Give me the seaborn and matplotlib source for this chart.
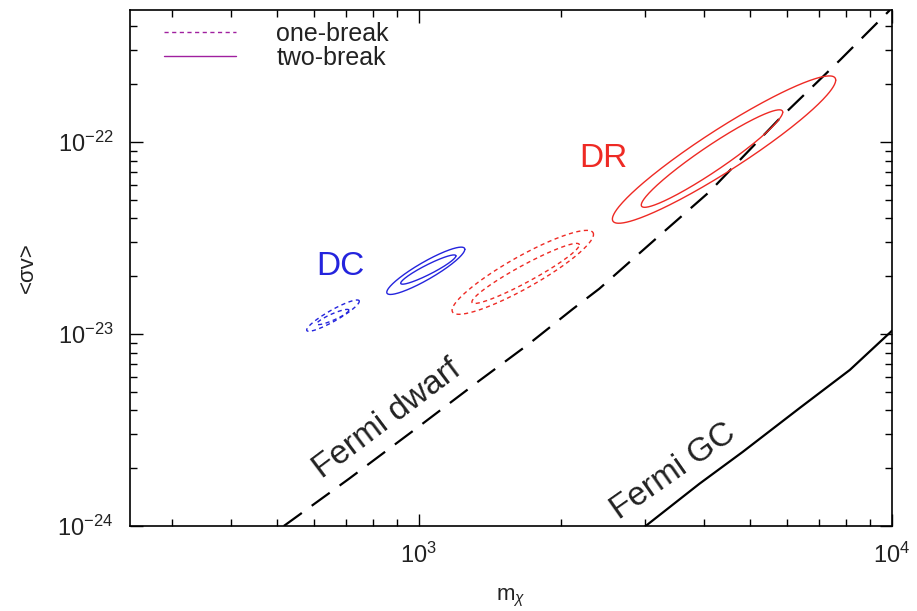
import numpy as np
import pandas as pd
import matplotlib
matplotlib.use("Agg")
import matplotlib.pyplot as plt
import seaborn as sns
from matplotlib.lines import Line2D
from matplotlib.ticker import LogLocator, LogFormatterMathtext, NullFormatter

# ---------------- data ----------------
# Fermi dwarf limit (dashed)
dwarf_m = [518, 711, 1000, 1340, 1710, 2115, 2405, 3222, 4111, 5795, 7762, 9903]
dwarf_sv = [1.0e-24, 1.76e-24, 3.3e-24, 5.7e-24, 8.9e-24, 1.35e-23, 1.72e-23,
            3.25e-23, 5.5e-23, 1.33e-22, 2.67e-22, 4.87e-22]
# Fermi GC limit (solid)
gc_m = [2999, 3917, 4833, 6383, 8145, 10000]
gc_sv = [0.99e-24, 1.66e-24, 2.43e-24, 4.12e-24, 6.5e-24, 1.04e-23]

# Contours: leftmost point, rightmost point, vertical half-height (decades)
contour_names = ["DR two outer", "DR two inner", "DR one outer", "DR one inner",
                 "DC two outer", "DC two inner", "DC one outer", "DC one inner"]
contour_left_m = [2564, 2951, 1175, 1294, 855, 915, 579, 608]
contour_left_sv = [3.97e-23, 4.70e-23, 1.33e-23, 1.47e-23, 1.65e-23, 1.84e-23, 1.05e-23, 1.13e-23]
contour_right_m = [7603, 5875, 2339, 2183, 1250, 1197, 748, 711]
contour_right_sv = [2.10e-22, 1.43e-22, 3.30e-23, 2.91e-23, 2.76e-23, 2.55e-23, 1.48e-23, 1.33e-23]
contour_halfheight = [0.128, 0.078, 0.094, 0.05, 0.052, 0.028, 0.033, 0.018]
contour_model = ["two", "two", "one", "one", "two", "two", "one", "one"]
contour_group = ["DR", "DR", "DR", "DR", "DC", "DC", "DC", "DC"]

legend_labels = ["one-break", "two-break"]
x_ticks = [1e3, 1e4]
y_ticks = [1e-24, 1e-23, 1e-22]

# ---------------- styling ----------------
sns.set_theme(style="white")
plt.rcParams["font.family"] = ["Liberation Sans", "DejaVu Sans"]
plt.rcParams["mathtext.fontset"] = "custom"
plt.rcParams["mathtext.rm"] = "Liberation Sans"
plt.rcParams["mathtext.it"] = "Liberation Sans:italic"

RED = "#ee2a24"
BLUE = "#2424dd"
PURPLE = "#a0209f"
TXT = "#222222"

fig = plt.figure(figsize=(9.17, 6.11), dpi=100)
ax = fig.add_axes([130 / 917, 85 / 611, 762 / 917, 516 / 611])
ax.set_xscale("log")
ax.set_yscale("log")

# Fermi curves
df_dwarf = pd.DataFrame({"m": dwarf_m, "sv": dwarf_sv})
df_gc = pd.DataFrame({"m": gc_m, "sv": gc_sv})
sns.lineplot(data=df_dwarf, x="m", y="sv", ax=ax, color="black", lw=1.6,
             sort=False, estimator=None)
ax.lines[-1].set_dashes((10, 5.5))
sns.lineplot(data=df_gc, x="m", y="sv", ax=ax, color="black", lw=1.6,
             sort=False, estimator=None)

# contours
t = np.linspace(0, 2 * np.pi, 300)
for i in range(len(contour_names)):
    lx0, ly0 = np.log10(contour_left_m[i]), np.log10(contour_left_sv[i])
    lx1, ly1 = np.log10(contour_right_m[i]), np.log10(contour_right_sv[i])
    cx, cy = (lx0 + lx1) / 2, (ly0 + ly1) / 2
    ax_, ay_ = (lx1 - lx0) / 2, (ly1 - ly0) / 2
    px = cx + np.cos(t) * ax_
    py = cy + np.cos(t) * ay_ + np.sin(t) * contour_halfheight[i]
    dfc = pd.DataFrame({"m": 10 ** px, "sv": 10 ** py})
    col = RED if contour_group[i] == "DR" else BLUE
    sns.lineplot(data=dfc, x="m", y="sv", ax=ax, color=col, lw=1.0,
                 sort=False, estimator=None)
    if contour_model[i] == "one":
        ax.lines[-1].set_dashes((3, 2.5))

ax.set_xlim(245, 1e4)
ax.set_ylim(1e-24, 4.87e-22)

# ticks gnuplot-like
ax.xaxis.set_major_locator(LogLocator(base=10, subs=(1.0,)))
ax.xaxis.set_minor_locator(LogLocator(base=10, subs=np.arange(2, 10)))
ax.yaxis.set_major_locator(LogLocator(base=10, subs=(1.0,)))
ax.yaxis.set_minor_locator(LogLocator(base=10, subs=np.arange(2, 10)))
ax.xaxis.set_major_formatter(LogFormatterMathtext())
ax.yaxis.set_major_formatter(LogFormatterMathtext())
ax.xaxis.set_minor_formatter(NullFormatter())
ax.yaxis.set_minor_formatter(NullFormatter())
ax.set_xticks(x_ticks)
ax.set_yticks(y_ticks)
ax.tick_params(which="both", direction="in", top=True, right=True,
               bottom=True, left=True,
               colors="black", labelcolor=TXT, labelsize=17, width=1.0)
ax.tick_params(which="major", length=9, pad=12)
ax.tick_params(which="minor", length=5)
for s in ax.spines.values():
    s.set_color("black")
    s.set_linewidth(1.2)

ax.set_xlabel(r"m$_\chi$", fontsize=16, color=TXT, labelpad=14)
ax.set_ylabel(r"<σv>", fontsize=16, color=TXT, labelpad=14)

# text labels
ax.text(608, 2.03e-23, "DC", color=BLUE, fontsize=24, ha="left", va="baseline")
ax.text(2183, 7.41e-23, "DR", color=RED, fontsize=24, ha="left", va="baseline")
ax.text(625, 1.76e-24, "Fermi dwarf", fontsize=24, color=TXT, rotation=37,
        rotation_mode="anchor", ha="left", va="baseline")
ax.text(2654, 1.08e-24, "Fermi GC", fontsize=24, color=TXT, rotation=35,
        rotation_mode="anchor", ha="left", va="baseline")

# legend
handles = [Line2D([], [], color=PURPLE, lw=1.0, dashes=(3, 2.5)),
           Line2D([], [], color=PURPLE, lw=1.0)]
leg = ax.legend(handles, legend_labels, loc="upper left", frameon=False,
                fontsize=18, handlelength=2.9, handletextpad=1.6,
                labelspacing=0.0, bbox_to_anchor=(0.015, 1.02),
                labelcolor=TXT)

fig.savefig("out.png", dpi=100)
